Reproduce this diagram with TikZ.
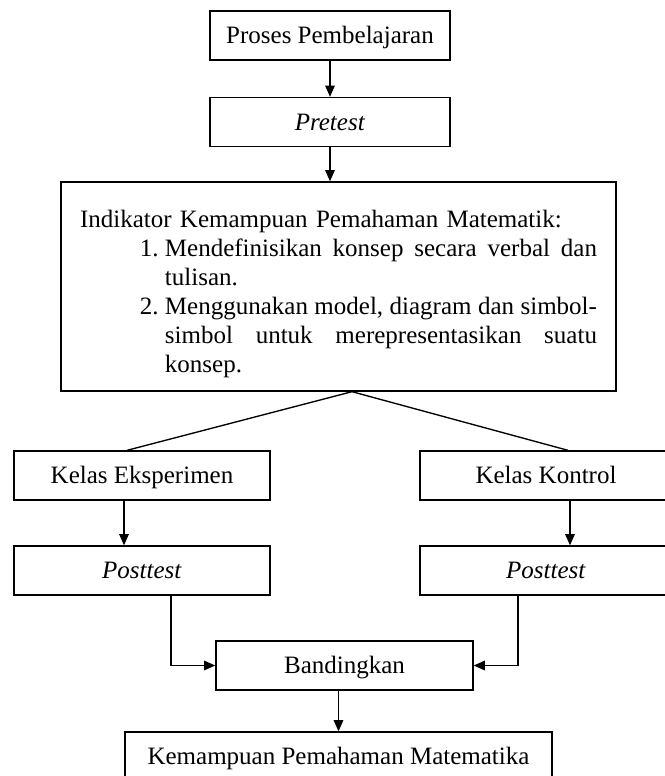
\documentclass[tikz,border=0pt]{standalone}
\usepackage{fontspec}
\setmainfont{Liberation Serif}
\usetikzlibrary{arrows.meta}
\newlength{\px}
\setlength{\px}{0.48pt}
\newcommand{\baris}[1]{\hbox to 432\px{#1}}
\tikzset{
  kotak/.style={draw, line width=0.65pt, inner sep=0pt, minimum height=49*\px,
    font=\fontsize{12pt}{13.92pt}\selectfont},
  satu/.style={kotak, text height=8pt, text depth=0pt},
  panah/.style={line width=0.65pt, -{Triangle[length=5.4pt, width=4.6pt]}},
  garis/.style={line width=0.65pt}
}

\begin{document}
\begin{tikzpicture}[x=0.48pt, y=-0.48pt]
    \useasboundingbox (0,0) rectangle (665,776);
    \node[satu, minimum width=240*\px] (proses) at (330,35.5) {Proses Pembelajaran};
    \node[satu, minimum width=240*\px] (pretest) at (330,122) {\textit{Pretest}};
    \node[kotak, minimum width=555*\px, minimum height=209*\px, text width=517*\px, align=left] (indikator) at (338.5,286.5) {Indikator Kemampuan Pemahaman Matematik:\rule{0pt}{33\px}\\
      \hspace*{60\px}\makebox[25\px][l]{1.}\baris{Mendefinisikan\hfill konsep\hfill secara\hfill verbal\hfill dan}\\
      \hspace*{85\px}tulisan.\\
      \hspace*{60\px}\makebox[25\px][l]{2.}\baris{Menggunakan\hfill model,\hfill diagram\hfill dan\hfill simbol-}\\
      \hspace*{85\px}\baris{simbol\hfill untuk\hfill merepresentasikan\hfill suatu}\\
      \hspace*{85\px}konsep.};
    \node[satu, minimum width=256*\px] (eksperimen) at (142,475.5) {Kelas Eksperimen};
    \node[satu, minimum width=252*\px] (kontrol) at (546,475.5) {Kelas Kontrol};
    \node[satu, minimum width=256*\px] (posttestA) at (142,570.5) {\textit{Posttest}};
    \node[satu, minimum width=252*\px] (posttestB) at (546,570.5) {\textit{Posttest}};
    \node[satu, minimum width=257*\px] (bandingkan) at (344.5,665.5) {Bandingkan};
    \node[satu, minimum width=427*\px] (hasil) at (338.5,756.5) {Kemampuan Pemahaman Matematika};

    \draw[panah] (proses) -- (pretest);
    \draw[panah] (pretest.south) -- (pretest.south |- indikator.north);
    \draw[garis] ([xshift=13.5*\px]indikator.south) -- ([xshift=-15*\px]eksperimen.north);
    \draw[garis] ([xshift=13.5*\px]indikator.south) -- ([xshift=22*\px]kontrol.north);
    \draw[panah] ([xshift=-18*\px]eksperimen.south) -- ([xshift=-18*\px]posttestA.north);
    \draw[panah] ([xshift=24*\px]kontrol.south) -- ([xshift=24*\px]posttestB.north);
    \draw[panah] ([xshift=29*\px]posttestA.south) |- (bandingkan.west);
    \draw[panah] ([xshift=-28*\px]posttestB.south) |- (bandingkan.east);
    \draw[panah] (hasil.north |- bandingkan.south) -- (hasil.north);
\end{tikzpicture}
\end{document}
